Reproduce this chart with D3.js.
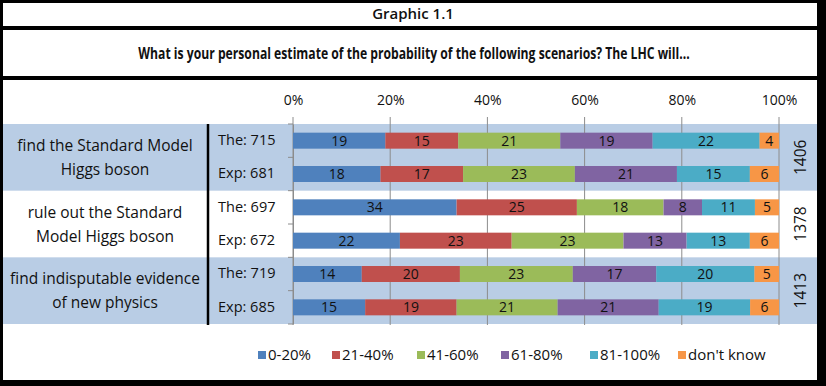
<!DOCTYPE html>
<html>
<head>
<meta charset="utf-8">
<script src="https://cdn.jsdelivr.net/npm/d3@7"></script>
<style>
  body { margin: 0; background: #fff; }
  svg text { font-family: "Open Sans", sans-serif; fill: #111; }
</style>
</head>
<body>
<div id="chart"></div>
<script>
// data
var questions = ["find the Standard Model|Higgs boson",
                 "rule out the Standard|Model Higgs boson",
                 "find indisputable evidence|of new physics"];
var totals = [1406, 1378, 1413];
var rowLabels = ["The: 715", "Exp: 681", "The: 697", "Exp: 672", "The: 719", "Exp: 685"];
var categories = ["0-20%", "21-40%", "41-60%", "61-80%", "81-100%", "don't know"];
var colors = ["#4f81bd", "#c0504d", "#9bbb59", "#8064a2", "#4bacc6", "#f79646"];
var values = [
  [19, 15, 21, 19, 22, 4],
  [18, 17, 23, 21, 15, 6],
  [34, 25, 18, 8, 11, 5],
  [22, 23, 23, 13, 13, 6],
  [14, 20, 23, 17, 20, 5],
  [15, 19, 21, 21, 19, 6]
];
var tickValues = [0, 0.2, 0.4, 0.6, 0.8, 1];

var W = 826, H = 386;
var svg = d3.select("#chart").append("svg")
  .attr("width", W).attr("height", H);

svg.append("rect").attr("width", W).attr("height", H).attr("fill", "#fff");

// rows
var y = d3.scaleBand().domain(rowLabels).range([124, 324]);
var x = d3.scaleLinear().domain([0, 1]).range([293, 779]);

// shaded bands for question 1 and 3
questions.forEach(function(q, i) {
  if (i % 2 == 0) {
    svg.append("rect")
      .attr("x", 3).attr("width", 815)
      .attr("y", y(rowLabels[i * 2]))
      .attr("height", y.bandwidth() * 2)
      .attr("fill", "#b9cde5");
  }
});

// gridlines
svg.selectAll(".grid")
  .data(tickValues)
  .enter().append("line")
    .attr("x1", function(d) { return x(d); })
    .attr("x2", function(d) { return x(d); })
    .attr("y1", 117).attr("y2", 325)
    .attr("stroke", "#8c8c8c").attr("stroke-width", 1);

// top axis labels
var axisTop = svg.append("g")
  .attr("transform", "translate(0,108)")
  .call(d3.axisTop(x).tickValues(tickValues).tickFormat(d3.format(".0%")).tickSize(0));
axisTop.select(".domain").remove();
axisTop.selectAll("text").attr("font-size", 14).attr("font-family", "Open Sans").attr("fill", "#111");

// left axis with category ticks
var axisLeft = svg.append("g")
  .attr("transform", "translate(" + x(0) + ",0)")
  .call(d3.axisLeft(y).tickValues([]).tickSize(0));
axisLeft.select(".domain").attr("stroke", "#8c8c8c");
svg.selectAll(".rowtick")
  .data(d3.range(rowLabels.length + 1))
  .enter().append("line")
    .attr("x1", x(0) - 5).attr("x2", x(0))
    .attr("y1", function(d) { return 124 + d * y.step(); })
    .attr("y2", function(d) { return 124 + d * y.step(); })
    .attr("stroke", "#8c8c8c");

// stacked bars (100% stacked)
var table = values.map(function(v, i) {
  var o = { row: rowLabels[i] };
  categories.forEach(function(c, j) { o[c] = v[j]; });
  return o;
});
var series = d3.stack().keys(categories).offset(d3.stackOffsetExpand)(table);
var barH = 16;

var layer = svg.selectAll(".layer")
  .data(series)
  .enter().append("g")
    .attr("fill", function(d, i) { return colors[i]; });

layer.selectAll("rect")
  .data(function(d) { return d; })
  .enter().append("rect")
    .attr("x", function(d) { return x(d[0]); })
    .attr("width", function(d) { return x(d[1]) - x(d[0]); })
    .attr("y", function(d) { return y(d.data.row) + (y.bandwidth() - barH) / 2; })
    .attr("height", barH);

layer.each(function(s) {
  d3.select(this).selectAll("text")
    .data(s)
    .enter().append("text")
      .attr("x", function(d) { return (x(d[0]) + x(d[1])) / 2; })
      .attr("y", function(d) { return y(d.data.row) + y.bandwidth() / 2; })
      .attr("dy", "0.36em")
      .attr("text-anchor", "middle")
      .attr("font-size", 14)
      .style("fill", "#111")
      .text(function(d) { return d.data[s.key]; });
});

// row labels
svg.selectAll(".rowlab")
  .data(rowLabels)
  .enter().append("text")
    .attr("x", 218)
    .attr("y", function(d) { return y(d) + y.bandwidth() / 2 - 1; })
    .attr("dy", "0.36em")
    .attr("font-size", 14.5)
    .text(function(d) { return d; });

// question labels
questions.forEach(function(q, i) {
  var cy = y(rowLabels[i * 2]) + y.bandwidth();
  var lines = q.split("|");
  lines.forEach(function(l, k) {
    svg.append("text")
      .attr("x", 105)
      .attr("y", cy + (k - 0.5) * 24)
      .attr("dy", "0.36em")
      .attr("text-anchor", "middle")
      .attr("font-size", 15.5)
      .text(l);
  });
  svg.append("text")
    .attr("transform", "translate(806," + cy + ") rotate(-90)")
    .attr("text-anchor", "middle")
    .attr("font-size", 15.5)
    .text(totals[i]);
});

// black divider between labels and bars
svg.append("line")
  .attr("x1", 208).attr("x2", 208).attr("y1", 124).attr("y2", 325)
  .attr("stroke", "#000").attr("stroke-width", 2.5);

// legend
var legendX = [258, 332, 417, 501, 590, 678];
var legend = svg.selectAll(".legend")
  .data(categories)
  .enter().append("g")
    .attr("transform", function(d, i) { return "translate(" + legendX[i] + ",355)"; });
legend.append("rect")
  .attr("x", 0).attr("y", -4).attr("width", 8).attr("height", 8)
  .attr("fill", function(d, i) { return colors[i]; });
legend.append("text")
  .attr("x", 10).attr("dy", "0.36em")
  .attr("font-size", 15)
  .text(function(d) { return d; });

// titles (narrow Calibri look: squeeze horizontally to the reference width)
function squeeze(t, cx, cy, target) {
  var w = t.node().getComputedTextLength();
  var sx = Math.min(1, target / w);
  t.attr("transform", "translate(" + cx + "," + cy + ") scale(" + sx + ",1)");
}
var t1 = svg.append("text")
  .attr("dy", "0.36em")
  .attr("text-anchor", "middle").attr("font-size", 15).attr("font-weight", "600")
  .text("Graphic 1.1");
squeeze(t1, W / 2, 14, 82);
var t2 = svg.append("text")
  .attr("dy", "0.36em")
  .attr("text-anchor", "middle").attr("font-size", 15.5).attr("font-weight", "bold")
  .text("What is your personal estimate of the probability of the following scenarios? The LHC will...");
squeeze(t2, W / 2 + 1, 53, 552);

// frame lines
svg.append("rect")
  .attr("x", 1.5).attr("y", 1.5).attr("width", W - 3 - 6).attr("height", H - 3 - 3)
  .attr("fill", "none").attr("stroke", "#000").attr("stroke-width", 3);
svg.append("rect").attr("x", W - 8).attr("y", 0).attr("width", 8).attr("height", H).attr("fill", "#000");
svg.append("rect").attr("x", 0).attr("y", H - 5).attr("width", W).attr("height", 5).attr("fill", "#000");
svg.append("rect").attr("x", 0).attr("y", 26).attr("width", W).attr("height", 4).attr("fill", "#000");
svg.append("rect").attr("x", 0).attr("y", 76).attr("width", W).attr("height", 4).attr("fill", "#000");
</script>
</body>
</html>
